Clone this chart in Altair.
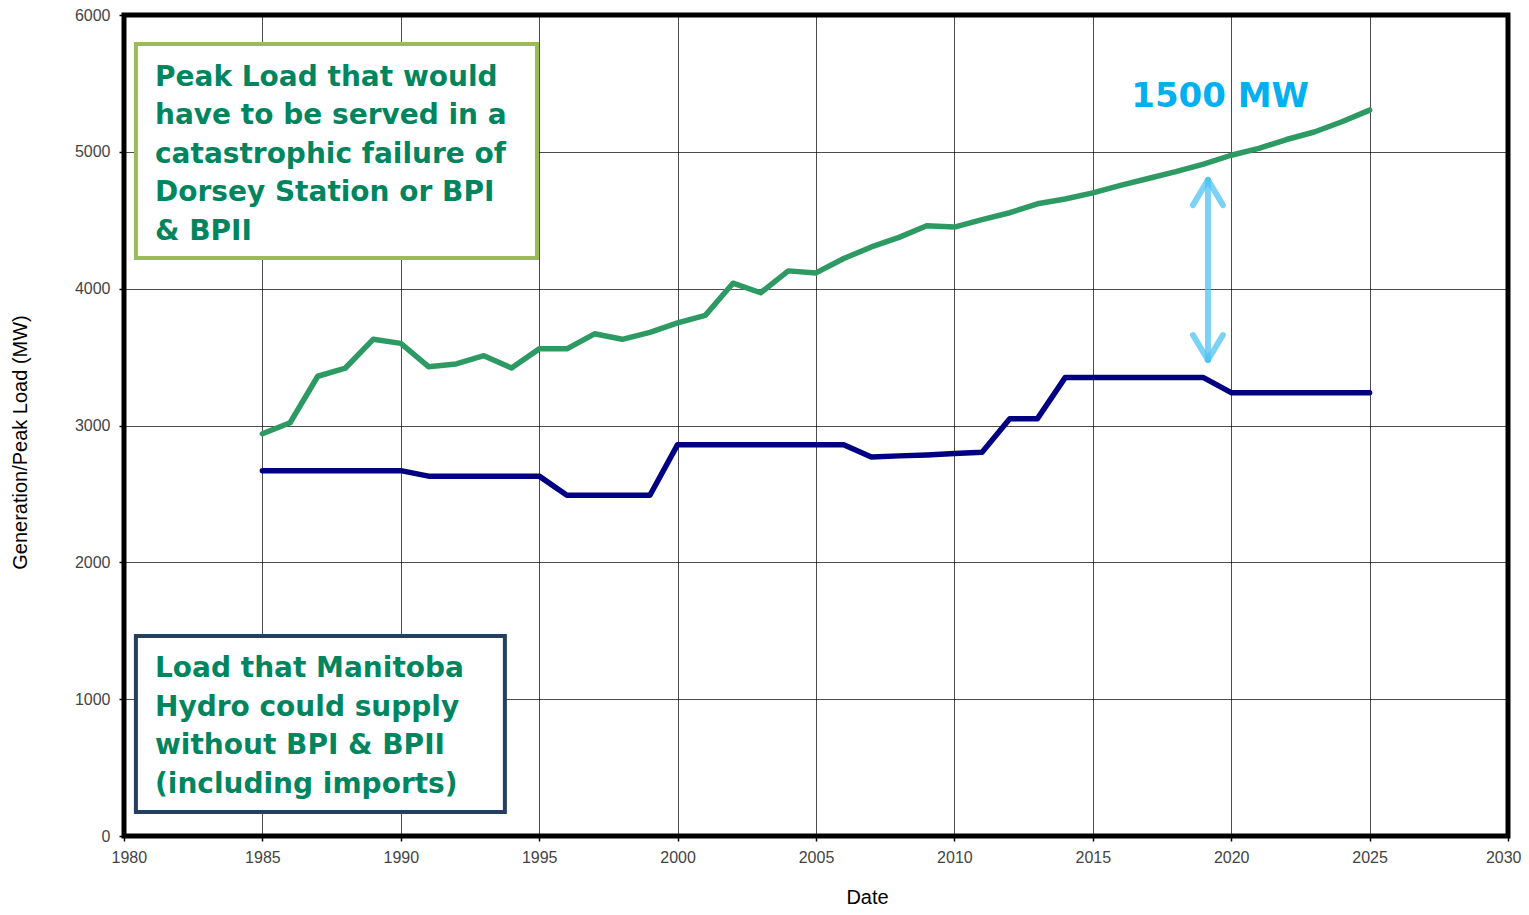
import altair as alt
import pandas as pd

# ---------------- data ----------------
years = list(range(1985, 2026))
peak_load = [2940, 3020, 3360, 3420, 3630, 3600, 3430, 3450, 3510, 3420,
             3560, 3560, 3670, 3630, 3680, 3750, 3805, 4040, 3970, 4130,
             4115, 4220, 4305, 4375, 4460, 4450, 4505, 4555, 4620, 4655,
             4700, 4755, 4805, 4855, 4910, 4975, 5025, 5090, 5145, 5220, 5305]
supply = [2670, 2670, 2670, 2670, 2670, 2670, 2630, 2630, 2630, 2630,
          2630, 2490, 2490, 2490, 2490, 2860, 2860, 2860, 2860, 2860,
          2860, 2860, 2770, 2778, 2785, 2795, 2805, 3050, 3050, 3350,
          3350, 3350, 3350, 3350, 3350, 3240, 3240, 3240, 3240, 3240, 3240]
x_ticks = [1980, 1985, 1990, 1995, 2000, 2005, 2010, 2015, 2020, 2025, 2030]
y_ticks = [0, 1000, 2000, 3000, 4000, 5000, 6000]

box1_lines = ["Peak Load that would", "have to be served in a",
              "catastrophic failure of", "Dorsey Station or BPI", "& BPII"]
box2_lines = ["Load that Manitoba", "Hydro could supply",
              "without BPI & BPII", "(including imports)"]
gap_label = "1500 MW"

# annotation geometry (data units)
box1 = {"x": 1980.43, "x2": 1994.92, "y": 5788, "y2": 4224}
box2 = {"x": 1980.43, "x2": 1993.76, "y": 1462, "y2": 175}
box1_text = {"x": 1981.12, "y": 5540}
box2_text = {"x": 1981.12, "y": 1220}
gap_text = {"x": 2019.6, "y": 5400}
arrow_segments = pd.DataFrame({
    "x":  [2019.16, 2018.62, 2019.70, 2018.62, 2019.70],
    "y":  [4794,    4611,    4611,    3661,    3661],
    "x2": [2019.16, 2019.16, 2019.16, 2019.16, 2019.16],
    "y2": [3479,    4794,    4794,    3479,    3479],
})

df_peak = pd.DataFrame({"year": years, "mw": peak_load})
df_supply = pd.DataFrame({"year": years, "mw": supply})

GREEN_TEXT = "#00855F"
FONT_BOX = "DejaVu Sans"

x_enc = alt.X("year:Q",
              scale=alt.Scale(domain=[1980, 2030], nice=False, zero=False),
              axis=alt.Axis(values=x_ticks, format="d", title="Date",
                            titleX=743, titleY=61, titleBaseline="middle",
                            titleAlign="center",
                            labelFlush=True, labelFlushOffset=13,
                            labelPadding=8, tickSize=5))
y_enc = alt.Y("mw:Q",
              scale=alt.Scale(domain=[0, 6000], nice=False),
              axis=alt.Axis(values=y_ticks, format="d",
                            title="Generation/Peak Load (MW)",
                            titleX=-104, titleY=427, titleBaseline="middle",
                            titleAlign="center", titleAngle=-90,
                            labelFlush=False,
                            labelPadding=9, tickSize=5))

peak_line = alt.Chart(df_peak).mark_line(
    color="#2E9A63", strokeWidth=5.5, strokeJoin="round", strokeCap="round"
).encode(x=x_enc, y=y_enc)

supply_line = alt.Chart(df_supply).mark_line(
    color="#000080", strokeWidth=5.5, strokeJoin="round", strokeCap="round"
).encode(x="year:Q", y="mw:Q")

b1 = alt.Chart(pd.DataFrame([box1])).mark_rect(
    fill="white", stroke="#9BBB59", strokeWidth=4
).encode(x="x:Q", x2="x2", y="y:Q", y2="y2")

b2 = alt.Chart(pd.DataFrame([box2])).mark_rect(
    fill="white", stroke="#243F60", strokeWidth=4
).encode(x="x:Q", x2="x2", y="y:Q", y2="y2")

t1 = alt.Chart(pd.DataFrame([box1_text])).mark_text(
    text=box1_lines, align="left", baseline="middle", lineHeight=38.5,
    font=FONT_BOX, fontWeight="bold", fontSize=28, color=GREEN_TEXT
).encode(x="x:Q", y="y:Q")

t2 = alt.Chart(pd.DataFrame([box2_text])).mark_text(
    text=box2_lines, align="left", baseline="middle", lineHeight=38.5,
    font=FONT_BOX, fontWeight="bold", fontSize=28, color=GREEN_TEXT
).encode(x="x:Q", y="y:Q")

t3 = alt.Chart(pd.DataFrame([gap_text])).mark_text(
    text=gap_label, align="center", baseline="middle",
    font=FONT_BOX, fontWeight="bold", fontSize=34, color="#00B0F0"
).encode(x="x:Q", y="y:Q")

arrow = alt.Chart(arrow_segments).mark_rule(
    color="#4FC3F2", opacity=0.75, strokeWidth=6, strokeCap="round"
).encode(x="x:Q", y="y:Q", x2="x2", y2="y2")

chart = alt.layer(
    peak_line, supply_line, b1, b2, t1, t2, t3, arrow
).properties(
    width=1384, height=821,
    background="white",
    autosize=alt.AutoSizeParams(type="none"),
    padding={"left": 116, "top": 7, "right": 13, "bottom": 70},
).configure_view(
    stroke="black", strokeWidth=5
).configure_axis(
    grid=True, gridColor="black", gridOpacity=0.7, gridWidth=1,
    domain=False, tickColor="black", tickWidth=1.5,
    labelFont="Liberation Sans", labelFontSize=16, labelColor="#444444",
    titleFont="Liberation Sans", titleFontSize=20, titleFontWeight="normal",
    titleColor="black"
)

chart.save("out.html", embed_options={"renderer": "svg", "actions": False})
